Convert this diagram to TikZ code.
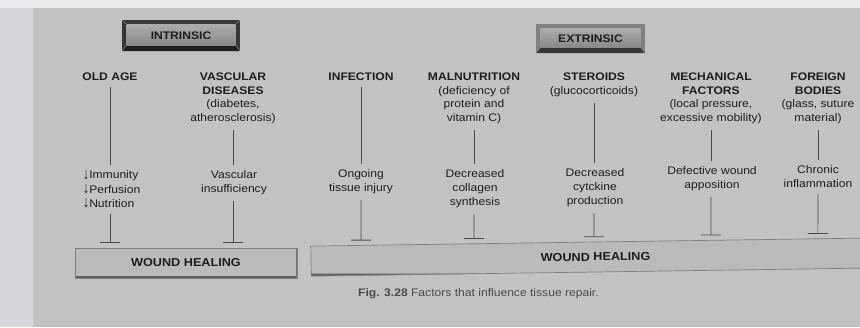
\documentclass[tikz,border=0pt]{standalone}
\usepackage{fontspec}
\setmainfont{Liberation Sans}[FakeStretch=1.1]
\usetikzlibrary{arrows.meta,calc}
\definecolor{pagebg}{RGB}{194,193,195}
\definecolor{marginbg}{RGB}{214,213,220}
\definecolor{topbg}{RGB}{236,236,238}
\definecolor{ink}{RGB}{30,30,32}
\definecolor{whfill}{RGB}{186,185,187}
\definecolor{faceT}{RGB}{172,171,173}
\definecolor{faceB}{RGB}{138,137,139}
\newcommand\dnarr{\raisebox{-0.3pt}{\scalebox{1}[1.45]{\fontsize{11}{14.3}\selectfont ↓}}}
\begin{document}
\begin{tikzpicture}[x=1pt,y=-1pt,
  head/.style={font=\bfseries\fontsize{11}{13.5}\selectfont, align=center, text=ink, inner sep=0pt, anchor=north},
  eff/.style={font=\fontsize{11}{14.3}\selectfont, align=center, text=ink, inner sep=0pt, anchor=north},
  conn/.style={draw=ink!80, line width=0.6pt, shorten <=6pt, shorten >=5pt},
  inhib/.style={draw=ink!80, line width=0.6pt, shorten <=6pt, shorten >=4.5pt, -{Bar[width=20pt,line width=0.9pt]}},
  hdr/.style 2 args={fill=#1, inner sep=0pt, font=\bfseries\fontsize{11}{13}\selectfont, text=ink,
    path picture={
      \coordinate (pA) at (path picture bounding box.south west);
      \coordinate (pB) at (path picture bounding box.north east);
      \fill[#2] (pA) -- (pA -| pB) -- ([shift={(-4.5pt,6pt)}]pA -| pB) -- ([shift={(4.5pt,6pt)}]pA) -- cycle;
      \shade[top color=faceT, bottom color=faceB] ([shift={(4.5pt,6pt)}]pA) rectangle ([shift={(-4.5pt,-4pt)}]pB);
      \draw[black!45, line width=0.5pt] (pA) -- ([shift={(4.5pt,6pt)}]pA) (pB) -- ([shift={(-4.5pt,-4pt)}]pB)
        (pA |- pB) -- ([shift={(4.5pt,-4pt)}]pA |- pB) (pA -| pB) -- ([shift={(-4.5pt,6pt)}]pA -| pB);
    }},
  whbox/.style={draw=black!50, line width=0.7pt, fill=whfill, inner sep=0pt, font=\bfseries\fontsize{11.5}{13}\selectfont, text=ink,
    path picture={\draw[black!62,line width=5pt] (path picture bounding box.south west) -- (path picture bounding box.south east);
      \draw[black!55,line width=3pt] (path picture bounding box.south east) -- (path picture bounding box.north east);}},
]
\useasboundingbox (0,0) rectangle (860,327);
\clip (0,0) rectangle (860,327);
\fill[topbg] (0,0) rectangle (860,327);
\fill[marginbg] (0,8) rectangle (33,327);
\fill[pagebg] (33,8) rectangle (860,327);

% group headers
\node[hdr={black!78}{black!88}, minimum width=118pt, minimum height=31pt] (intr) at (181,35.5) {INTRINSIC};
\node[hdr={black!50}{black!78}, minimum width=109pt, minimum height=29pt] (extr) at (590.5,38.5) {EXTRINSIC};

% factors
\node[head] (h1) at (110,73) {OLD AGE};
\node[head] (h2) at (233,73) {VASCULAR\\DISEASES\\\mdseries(diabetes,\\\mdseries atherosclerosis)};
\node[head] (h3) at (361,73) {INFECTION};
\node[head] (h4) at (474,73) {MALNUTRITION\\\mdseries(deficiency of\\\mdseries protein and\\\mdseries vitamin C)};
\node[head] (h5) at (594,73) {STEROIDS\\\mdseries(glucocorticoids)};
\node[head] (h6) at (711,73) {MECHANICAL\\FACTORS\\\mdseries(local pressure,\\\mdseries excessive mobility)};
\node[head] (h7) at (818,73) {FOREIGN\\BODIES\\\mdseries(glass, suture\\\mdseries material)};

% effects
\node[eff, align=left, anchor=north west] (e1) at (83,170) {\dnarr Immunity\\\dnarr Perfusion\\\dnarr Nutrition};
\node[eff] (e2) at (234,170) {Vascular\\insufficiency};
\node[eff] (e3) at (361,169) {Ongoing\\tissue injury};
\node[eff] (e4) at (475,169) {Decreased\\collagen\\synthesis};
\node[eff] (e5) at (595,168) {Decreased\\cytckine\\production};
\node[eff] (e6) at (712,166) {Defective wound\\apposition};
\node[eff] (e7) at (818,165) {Chronic\\inflammation};

% wound healing boxes
\node[whbox, minimum width=222pt, minimum height=30pt] (wh1) at (186,263) {WOUND HEALING};
\node[whbox, minimum width=569pt, minimum height=30pt, rotate=0.83] (wh2) at (595.5,257) {WOUND HEALING};

% caption
\node[anchor=base west, inner sep=0pt, text=ink!80, font=\fontsize{11}{13}\selectfont] (cap) at (358,296) {\textbf{Fig. 3.28} Factors that influence tissue repair.};

% connectors
\foreach \i in {1,...,7}{
  \draw[conn] (h\i.south) -- (h\i.south |- e\i.north);
}
\draw[inhib] (h1.south |- e1.south) -- (h1.south |- wh1.north);
\draw[inhib] (h2.south |- e2.south) -- (h2.south |- wh1.north);
\foreach \i in {3,...,7}{
  \coordinate (t\i) at ($(wh2.north west)!(h\i.south |- wh2.north)!(wh2.north east)$);
  \draw[inhib] (h\i.south |- e\i.south) -- (t\i);
}
\end{tikzpicture}
\end{document}
